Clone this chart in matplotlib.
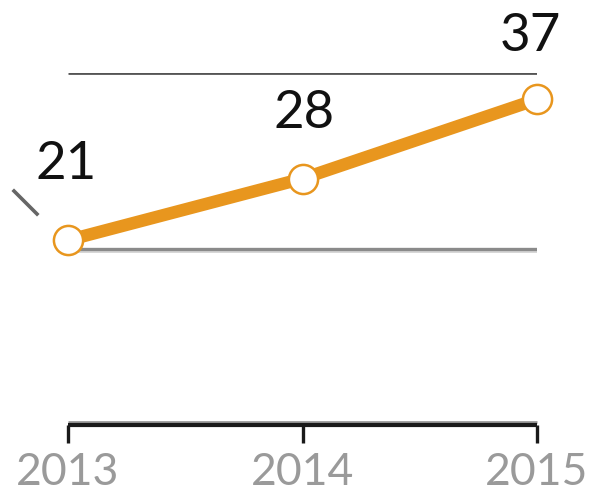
import matplotlib
matplotlib.use("Agg")
import matplotlib.pyplot as plt
from matplotlib.lines import Line2D

years = [2013, 2014, 2015]
values = [21, 28, 37]
value_labels = ["21", "28", "37"]
grid_levels = [20, 40]
tick_labels = ["2013", "2014", "2015"]

plt.rcParams['font.family'] = ['Lato', 'DejaVu Sans']

fig = plt.figure(figsize=(5.9, 4.95), dpi=100)
ax = fig.add_axes([68/590, 1-425/495, (537-68)/590, (425-73)/495])
ax.set_xlim(2013, 2015)
ax.set_ylim(0, 40)
ax.axis('off')

# gridlines
ax.plot([years[0], years[-1]], [grid_levels[0]]*2, color='#8a8a8a', lw=2.4, solid_capstyle='butt', zorder=1)
ax.plot([years[0], years[-1]], [grid_levels[0] - 0.3]*2, color='#d0d0d0', lw=1.2, solid_capstyle='butt', zorder=0)
ax.plot([years[0], years[-1]], [grid_levels[1]]*2, color='#555555', lw=2.0, solid_capstyle='butt', zorder=1)

# baseline axis
ax.plot([years[0], years[-1]], [0.35, 0.35], color='#999999', lw=2.0, solid_capstyle='butt', clip_on=False, zorder=2)
ax.plot([years[0], years[-1]], [0, 0], color='#1a1a1a', lw=3.0, solid_capstyle='butt', clip_on=False, zorder=2)
for yr, lab in zip(years, tick_labels):
    ax.plot([yr, yr], [0, -2.0], color='#1a1a1a', lw=2.4, clip_on=False, solid_capstyle='butt')
    ax.annotate(lab, (yr, 0), xytext=(0, -34.5), textcoords='offset points',
                ha='center', va='center', fontsize=32, color='#9a9a9a', annotation_clip=False)

# data line
ax.plot(years, values, color='#E8961E', lw=9, marker='o', markersize=21,
        markerfacecolor='white', markeredgecolor='#E8961E', markeredgewidth=1.8,
        solid_capstyle='butt', clip_on=False, zorder=3)

offsets = [(-1.4, 54.7), (1.4, 46.8), (-5, 45.4)]
for x, y, lab, off in zip(years, values, value_labels, offsets):
    ax.annotate(lab, (x, y), xytext=off, textcoords='offset points', ha='center',
                va='center', fontsize=38, color='#111111', annotation_clip=False)

# small break mark at left
fig.add_artist(Line2D([14/590, 37/590], [1-191/495, 1-214/495], color='#666666', lw=2.6))

fig.savefig('out.png', dpi=100, facecolor='white')
